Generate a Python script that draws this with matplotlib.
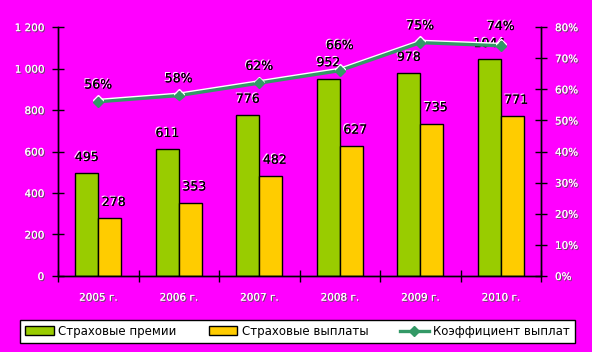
import numpy as np
import matplotlib
matplotlib.use("Agg")
import matplotlib.pyplot as plt
import matplotlib.patheffects as pe
from matplotlib.lines import Line2D
from matplotlib.patches import Patch

# === Data ===
years = ["2005 г.", "2006 г.", "2007 г.", "2008 г.", "2009 г.", "2010 г."]
premiums = [495, 611, 776, 952, 978, 1044]
payouts = [278, 353, 482, 627, 735, 771]
ratio = [56, 58, 62, 66, 75, 74]  # %

left_ticks = [0, 200, 400, 600, 800, 1000, 1200]
left_labels = ["0", "200", "400", "600", "800", "1 000", "1 200"]
right_ticks = [0, 10, 20, 30, 40, 50, 60, 70, 80]

# === Colors ===
bg = "#FF00FF"
c_prem = "#99CC00"
c_pay = "#FFCC00"
c_line = "#339966"

plt.rcParams['font.family'] = ['DejaVu Sans']

fig = plt.figure(figsize=(5.92, 3.52), dpi=100, facecolor=bg)
ax = fig.add_axes([0.098, 0.216, 0.816, 0.707], facecolor=bg)
ax2 = ax.twinx()

x = np.arange(len(years))
w = 0.285
ax.bar(x - w / 2, premiums, w, color=c_prem, edgecolor="black", linewidth=1, zorder=2)
ax.bar(x + w / 2, payouts, w, color=c_pay, edgecolor="black", linewidth=1, zorder=2)

# white text with dark shadow for ticks, black text with white shadow for values
tick_fx = [pe.withSimplePatchShadow(offset=(0.8, -0.8), shadow_rgbFace="#555555", alpha=1), pe.Normal()]
val_fx = [pe.withSimplePatchShadow(offset=(-0.8, 0.8), shadow_rgbFace="white", alpha=1), pe.Normal()]

for xi, v in zip(x, premiums):
    ax.text(xi - w / 2, v + 45, str(v), ha="center", va="bottom", fontsize=9,
            color="black", path_effects=val_fx, zorder=5)
for xi, v in zip(x, payouts):
    ax.text(xi + w / 2 + 0.05, v + 45, str(v), ha="center", va="bottom", fontsize=9,
            color="black", path_effects=val_fx, zorder=5)

ax.set_xlim(-0.5, len(years) - 0.5)
ax.set_ylim(0, 1200)
ax.set_yticks(left_ticks)
ax.set_yticklabels(left_labels)
ax.set_xticks(x)
ax.set_xticklabels(years)
ax.set_xticks(np.arange(-0.5, len(years)), minor=True)
ax.tick_params(axis="x", which="major", length=0, pad=12)
ax.tick_params(axis="x", which="minor", length=8, direction="inout", width=1)
ax.tick_params(axis="y", length=8, direction="inout", width=1, pad=6)
for lab in ax.get_xticklabels() + ax.get_yticklabels():
    lab.set_color("white")
    lab.set_fontsize(7.5)
    lab.set_path_effects(tick_fx)

# line on the secondary axis
ax2.plot(x, ratio, color=c_line, linewidth=2.4, marker="D", markersize=5,
         path_effects=[pe.SimpleLineShadow(offset=(0, 1), shadow_color="white", alpha=1), pe.Normal()],
         zorder=4)
scale = 1200 / 80  # left units per percent
for xi, v, p in zip(x, ratio, premiums):
    # keep the % label clear of the premium label just below it
    prem_top = (p + 90) / scale
    y_lab = max(v + 3.3, prem_top + 2.5)
    ax2.text(xi, y_lab, f"{v}%", ha="center", va="bottom", fontsize=9,
             color="black", path_effects=val_fx, zorder=5)
ax2.set_ylim(0, 80)
ax2.set_yticks(right_ticks)
ax2.set_yticklabels([f"{t}%" for t in right_ticks])
ax2.tick_params(axis="y", length=8, direction="inout", width=1, pad=6)
for lab in ax2.get_yticklabels():
    lab.set_color("white")
    lab.set_fontsize(7.5)
    lab.set_path_effects(tick_fx)

for a in (ax, ax2):
    a.spines["top"].set_visible(False)
    for s in ("left", "right", "bottom"):
        a.spines[s].set_color("black")
        a.spines[s].set_linewidth(1)

handles = [
    Patch(facecolor=c_prem, edgecolor="black", label="Страховые премии"),
    Patch(facecolor=c_pay, edgecolor="black", label="Страховые выплаты"),
    Line2D([0], [0], color=c_line, linewidth=2.4, marker="D", markersize=5, label="Коэффициент выплат"),
]
leg = fig.legend(handles=handles, loc="center", bbox_to_anchor=(0.503, 0.058), ncol=3,
                 fontsize=8.5, frameon=True, fancybox=False, edgecolor="black",
                 facecolor="white", framealpha=1,
                 handlelength=2.4, handleheight=0.8, columnspacing=2.7, handletextpad=0.4,
                 borderpad=0.45, borderaxespad=0)
leg.get_frame().set_linewidth(1)

fig.savefig("out.png", dpi=100, facecolor=bg)
